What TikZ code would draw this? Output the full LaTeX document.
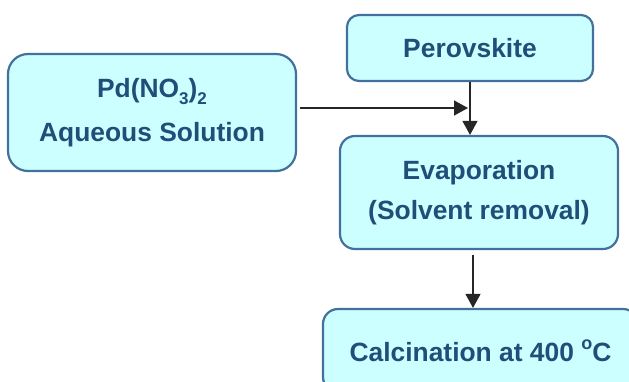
\documentclass[tikz,border=0pt]{standalone}
\usepackage{fontspec}
\setmainfont{Liberation Sans}
\usetikzlibrary{arrows.meta}
\definecolor{boxfill}{HTML}{CCFFFF}
\definecolor{boxline}{HTML}{41719C}
\definecolor{boxtext}{HTML}{1F4E79}
\newcommand{\lowsub}[1]{\raisebox{-7pt}{\fontsize{17}{17}\selectfont #1}}
\newcommand{\highsup}[1]{\raisebox{12pt}{\fontsize{18}{18}\selectfont #1}}
\begin{document}
\begin{tikzpicture}[x=1pt,y=1pt,
  procbox/.style={draw=boxline, fill=boxfill, line width=2.2pt, text=boxtext,
    font=\bfseries\fontsize{26.4}{40}\selectfont, align=center, inner sep=0pt},
  conn/.style={line width=1.3pt, draw=black!85},
  arr/.style={conn, -{Triangle[length=14pt,width=15pt]}}]
\useasboundingbox (0,0) rectangle (629,-381);
\begin{scope}
\clip (0,0) rectangle (629,-381);
\node[procbox, rounded corners=20pt, minimum width=288pt, minimum height=117pt]
  (pd) at (152,-112.5) {Pd(NO\lowsub{3})\lowsub{2}\\[4pt] Aqueous Solution};
\node[procbox, rounded corners=12pt, minimum width=246pt, minimum height=66pt]
  (pero) at (470,-48) {Perovskite};
\node[procbox, rounded corners=15pt, minimum width=278pt, minimum height=113pt]
  (evap) at (479,-192.5) {Evaporation\\(Solvent removal)};
\node[procbox, rounded corners=15pt, minimum width=315pt, minimum height=83pt]
  (calc) at (480.5,-350.5) {Calcination at 400 \highsup{o}C};
\end{scope}
\coordinate (hs) at ([xshift=3pt,yshift=4.5pt]pd.east);
\coordinate (he) at ([xshift=-2pt]pero.south |- hs);
\draw[arr] (hs) -- (he);
\draw[arr] (pero.south) -- (pero.south |- evap.north);
\coordinate (es) at ([xshift=-6pt,yshift=-5pt]evap.south);
\draw[arr] (es) -- (es |- calc.north);
\end{tikzpicture}
\end{document}
